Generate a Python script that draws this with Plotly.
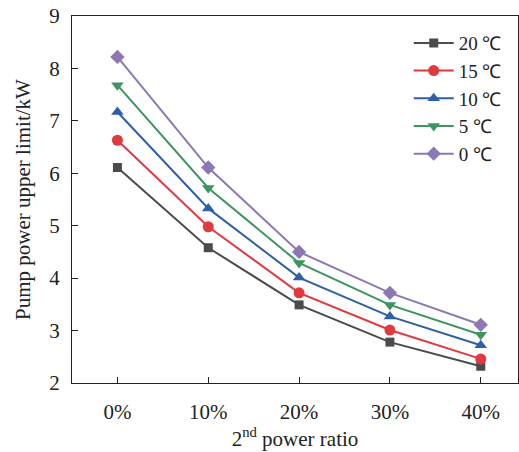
import plotly.graph_objects as go

# Second power ratio categories (x axis)
ratios = ["0%", "10%", "20%", "30%", "40%"]

# Pump power upper limit (kW) per ambient temperature
p_20c = [6.11, 4.58, 3.49, 2.78, 2.32]
p_15c = [6.63, 4.98, 3.72, 3.01, 2.46]
p_10c = [7.17, 5.33, 4.01, 3.27, 2.72]
p_5c = [7.68, 5.72, 4.29, 3.49, 2.92]
p_0c = [8.22, 6.11, 4.50, 3.72, 3.11]

series_names = ["20 ℃", "15 ℃", "10 ℃", "5 ℃", "0 ℃"]
series_values = [p_20c, p_15c, p_10c, p_5c, p_0c]
series_colors = ["#4b4b4b", "#e0393e", "#2f5fa5", "#3d9560", "#8c78b4"]
series_symbols = ["square", "circle", "triangle-up", "triangle-down", "diamond"]
series_sizes = [9, 11, 11, 11, 11]

FONT = "Liberation Serif, Times New Roman, serif"
FS = 21

fig = go.Figure()
x_idx = list(range(len(ratios)))
for name, vals, color, sym, size in zip(series_names, series_values,
                                        series_colors, series_symbols, series_sizes):
    fig.add_trace(go.Scatter(
        x=x_idx, y=vals, name=name, mode="lines+markers",
        line=dict(color=color, width=2),
        marker=dict(symbol=sym, size=size, color=color),
    ))

fig.update_layout(
    width=519, height=452,
    margin=dict(l=72, r=1, t=16, b=69),
    paper_bgcolor="white", plot_bgcolor="white",
    font=dict(family=FONT, size=FS, color="#222"),
    showlegend=True,
    legend=dict(
        x=0.755, y=0.978, xanchor="left", yanchor="top",
        bgcolor="rgba(0,0,0,0)", font=dict(family=FONT, size=19, color="#222"),
        tracegroupgap=0, itemwidth=40,
    ),
    xaxis=dict(
        range=[-0.5, 4.41], tickmode="array", tickvals=x_idx, ticktext=ratios,
        ticks="inside", ticklen=6, tickcolor="#222", tickwidth=1,
        showline=True, linecolor="#222", linewidth=1.2, mirror=True,
        showgrid=False, zeroline=False, ticklabelstandoff=10,
        title=dict(text="2<sup>nd</sup> power ratio", standoff=6,
                   font=dict(family=FONT, size=FS)),
        tickfont=dict(family=FONT, size=FS),
    ),
    yaxis=dict(
        range=[2, 9], dtick=1, tick0=2,
        ticks="inside", ticklen=6, tickcolor="#222", tickwidth=1,
        showline=True, linecolor="#222", linewidth=1.2, mirror=True,
        showgrid=False, zeroline=False, ticklabelstandoff=7,
        title=dict(text="Pump power upper limit/kW", standoff=12,
                   font=dict(family=FONT, size=FS)),
        tickfont=dict(family=FONT, size=FS),
    ),
)

fig.write_html("out.html")
